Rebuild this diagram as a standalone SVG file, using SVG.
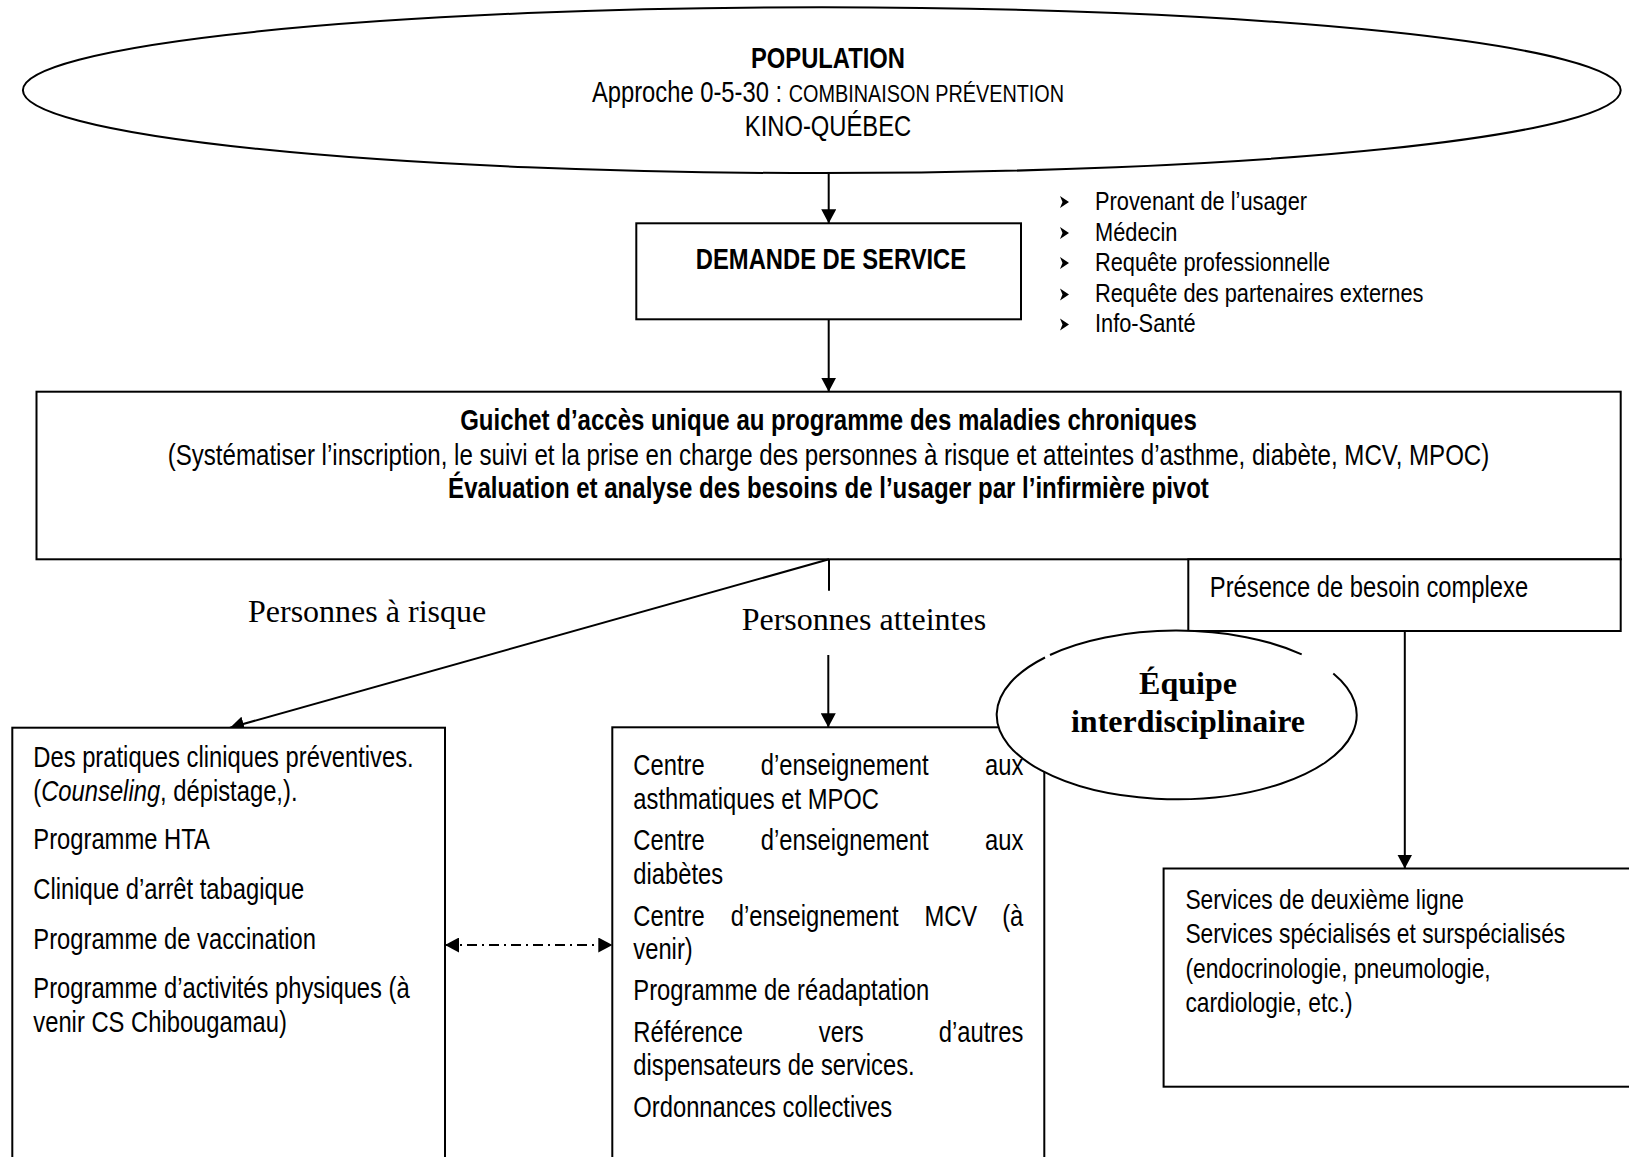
<svg xmlns="http://www.w3.org/2000/svg" width="1629" height="1157" viewBox="0 0 1629 1157">
<style>
.n{font-family:"Liberation Sans Narrow","Arial Narrow","Liberation Sans",Arial,sans-serif;font-size:29px;fill:#000}
.s{font-size:26.6px}
.r{font-size:27.8px}
.g{font-size:29.3px}
.sc{font-size:24.2px}
.b{font-weight:bold}
.t{font-family:"Liberation Serif","Times New Roman",serif;font-size:32px;fill:#000}
.box{fill:#fff;stroke:#000;stroke-width:2}
.ln{fill:none;stroke:#000;stroke-width:2}
.mid{text-anchor:middle}
.end{text-anchor:end}
</style>
<defs>
<marker id="ah" viewBox="0 0 14 15" refX="14" refY="7.5" markerWidth="14" markerHeight="15" markerUnits="userSpaceOnUse" orient="auto-start-reverse">
<path d="M0,0 L14,7.5 L0,15 Z" fill="#000"/>
</marker>
<polygon id="bul" points="-4,-6 5,0 -4,6 -1.5,0" fill="#000"/>
</defs>
<rect width="1629" height="1157" fill="#fff"/>

<g id="population">
<ellipse cx="821.8" cy="90.2" rx="798.9" ry="82.9" class="box" stroke-width="2.4"/>
<g transform="scale(0.82 1)">
<text class="n b mid" x="1009.76" y="68.3">POPULATION</text>
<text class="n mid" x="1009.76" y="102">Approche 0-5-30 : <tspan class="sc">COMBINAISON PRÉVENTION</tspan></text>
<text class="n mid" x="1009.76" y="136">KINO-QUÉBEC</text>
</g>
</g>

<g id="demande">
<rect x="636.3" y="223.3" width="384.7" height="96" class="box"/>
<g transform="scale(0.82 1)">
<text class="n b mid" x="1013.41" y="269.3">DEMANDE DE SERVICE</text>
</g>
</g>

<g id="sources">
<use href="#bul" x="1064" y="202"/>
<use href="#bul" x="1064" y="233"/>
<use href="#bul" x="1064" y="263"/>
<use href="#bul" x="1064" y="294.5"/>
<use href="#bul" x="1064" y="324.5"/>
<g transform="scale(0.82 1)">
<text class="n s" x="1335.37" y="210">Provenant de l’usager</text>
<text class="n s" x="1335.37" y="241">Médecin</text>
<text class="n s" x="1335.37" y="271">Requête professionnelle</text>
<text class="n s" x="1335.37" y="302.5">Requête des partenaires externes</text>
<text class="n s" x="1335.37" y="332.5">Info-Santé</text>
</g>
</g>

<g id="guichet">
<rect x="36.5" y="391.7" width="1584.2" height="167.6" class="box"/>
<g transform="scale(0.82 1)">
<text class="n b g mid" x="1010.37" y="430.5">Guichet d’accès unique au programme des maladies chroniques</text>
<text class="n mid" x="1010.37" y="465.5" textLength="1611.7" lengthAdjust="spacingAndGlyphs">(Systématiser l’inscription, le suivi et la prise en charge des personnes à risque et atteintes d’asthme, diabète, MCV, MPOC)</text>
<text class="n b g mid" x="1010.37" y="498.5">Évaluation et analyse des besoins de l’usager par l’infirmière pivot</text>
</g>
</g>

<g id="presence">
<rect x="1188.3" y="559.3" width="432.4" height="71.7" class="box"/>
<g transform="scale(0.82 1)">
<text class="n" x="1475.37" y="596.7">Présence de besoin complexe</text>
</g>
</g>

<g id="connectors">
<line x1="828.7" y1="173" x2="828.7" y2="223.3" class="ln" marker-end="url(#ah)"/>
<line x1="828.7" y1="319.3" x2="828.7" y2="391.7" class="ln" marker-end="url(#ah)"/>
<line x1="829" y1="559.3" x2="829" y2="590.7" class="ln"/>
<line x1="829" y1="559.3" x2="230" y2="727.7" class="ln" marker-end="url(#ah)"/>
<line x1="828.3" y1="655" x2="828.3" y2="727.3" class="ln" marker-end="url(#ah)"/>
<line x1="1404.8" y1="631" x2="1404.8" y2="868.5" class="ln" marker-end="url(#ah)"/>
<line x1="445" y1="945" x2="612.3" y2="945" class="ln" stroke-dasharray="10 5 2 5" marker-start="url(#ah)" marker-end="url(#ah)"/>
<text class="t" x="248" y="622">Personnes à risque</text>
<text class="t" x="741.7" y="630">Personnes atteintes</text>
</g>

<g id="risque">
<rect x="12.3" y="727.7" width="432.7" height="440" class="box"/>
<g transform="scale(0.82 1)">
<text class="n" x="40.61" y="767.5">Des pratiques cliniques préventives.</text>
<text class="n" x="40.61" y="800.8">(<tspan font-style="italic">Counseling</tspan>, dépistage,).</text>
<text class="n" x="40.61" y="849.5">Programme HTA</text>
<text class="n" x="40.61" y="899.3">Clinique d’arrêt tabagique</text>
<text class="n" x="40.61" y="948.6">Programme de vaccination</text>
<text class="n" x="40.61" y="998.4">Programme d’activités physiques (à</text>
<text class="n" x="40.61" y="1032">venir CS Chibougamau)</text>
</g>
</g>

<g id="atteintes">
<rect x="612.3" y="727.3" width="432" height="440" class="box"/>
<g transform="scale(0.82 1)">
<text class="n" x="772.32" y="775.5">Centre</text>
<text class="n mid" x="1030.12" y="775.5">d’enseignement</text>
<text class="n end" x="1247.93" y="775.5">aux</text>
<text class="n" x="772.32" y="808.8">asthmatiques et MPOC</text>
<text class="n" x="772.32" y="850.5">Centre</text>
<text class="n mid" x="1030.12" y="850.5">d’enseignement</text>
<text class="n end" x="1247.93" y="850.5">aux</text>
<text class="n" x="772.32" y="883.7">diabètes</text>
<text class="n" x="772.32" y="925.8">Centre</text>
<text class="n mid" x="993.54" y="925.8">d’enseignement</text>
<text class="n mid" x="1159.51" y="925.8">MCV</text>
<text class="n end" x="1247.93" y="925.8">(à</text>
<text class="n" x="772.32" y="959.1">venir)</text>
<text class="n" x="772.32" y="1000.5">Programme de réadaptation</text>
<text class="n" x="772.32" y="1042.3">Référence</text>
<text class="n mid" x="1025.98" y="1042.3">vers</text>
<text class="n end" x="1247.93" y="1042.3">d’autres</text>
<text class="n" x="772.32" y="1075.5">dispensateurs de services.</text>
<text class="n" x="772.32" y="1117.5">Ordonnances collectives</text>
</g>
</g>

<g id="equipe">
<ellipse cx="1176.7" cy="715" rx="180" ry="84.3" fill="#fff"/>
<path d="M1050,655 A180,84.3 0 0 1 1301.7,654.3 M1333.3,673.4 A180,84.3 0 1 1 1045,657.5" class="ln"/>
<text class="t b mid" x="1188" y="694">Équipe</text>
<text class="t b mid" x="1188" y="731.7">interdisciplinaire</text>
</g>

<g id="deuxieme">
<rect x="1163.6" y="868.5" width="480" height="218.2" class="box"/>
<g transform="scale(0.82 1)">
<text class="n r" x="1445.61" y="909">Services de deuxième ligne</text>
<text class="n r" x="1445.61" y="943.5">Services spécialisés et surspécialisés</text>
<text class="n r" x="1445.61" y="978">(endocrinologie, pneumologie,</text>
<text class="n r" x="1445.61" y="1012.5">cardiologie, etc.)</text>
</g>
</g>
</svg>
